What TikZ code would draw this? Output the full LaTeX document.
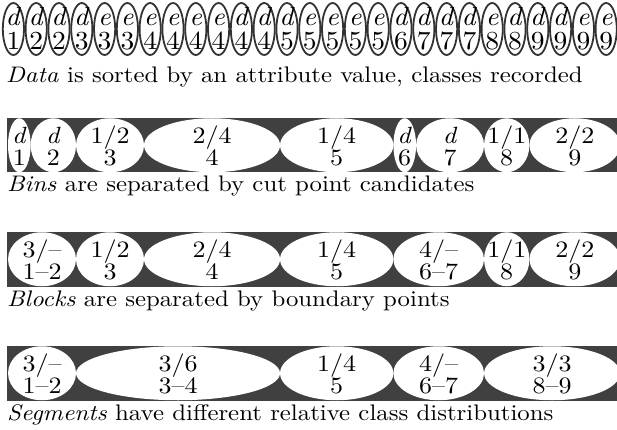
\documentclass[tikz,border=0pt]{standalone}
\usepackage{graphicx}
\definecolor{bandgray}{HTML}{404040}
\definecolor{rimgray}{HTML}{333333}
% text set at 10pt design size, then enlarged
\newcommand{\capt}[1]{\scalebox{2.48}[2.25]{\fontsize{10}{12}\selectfont #1}}
\newcommand{\lab}[1]{\scalebox{2.6}[2.35]{\fontsize{10}{12}\selectfont #1}}
\newcommand{\labone}[1]{\scalebox{2.75}[2.6]{\fontsize{10}{12}\selectfont #1}}
\tikzset{
  captxt/.style={anchor=base west, inner sep=0pt},
  labtxt/.style={anchor=base, inner sep=0pt},
  bandbox/.style={fill=bandgray},
  cell/.style={fill=white, draw=rimgray, line width=1.8pt}
}
% #1 start item, #2 end item, #3 band top, #4 top text, #5 bottom text, #6 name
\newcommand{\seg}[6]{%
  \pgfmathsetmacro\xa{8+22.67*#1}%
  \pgfmathsetmacro\xb{8+22.67*#2}%
  \pgfmathsetmacro\xm{(\xa+\xb)/2}%
  \pgfmathsetmacro\rx{(\xb-\xa)/2}%
  \fill[white] (\xm,#3+27.25) ellipse [x radius=\rx, y radius=27];
  \node[labtxt] (#6a) at (\xm,#3+25.3) {\lab{#4}};
  \node[labtxt] (#6b) at (\xm,#3+47.3) {\lab{#5}};
}
\begin{document}
\begin{tikzpicture}[x=1pt,y=-1pt]
\useasboundingbox (0,0) rectangle (617,430);
% Row 1: data
\foreach \c/\n [count=\i from 0] in {d/1,d/2,d/2,d/3,e/3,e/3,e/4,e/4,e/4,e/4,d/4,d/4,d/5,e/5,e/5,e/5,e/5,d/6,d/7,d/7,d/7,e/8,d/8,d/9,d/9,e/9,e/9} {
  \pgfmathsetmacro\xc{2+22.8*(\i+0.5)}
  \filldraw[cell] (\xc,29) ellipse [x radius=10.6, y radius=26];
  \node[labtxt] (t\i) at (\xc,25.5) {\labone{\textit{\c}}};
  \node[labtxt] (n\i) at (\xc,49.5) {\labone{\n}};
}
\node[captxt] (cap1) at (6,82.5) {\capt{\textit{Data} is sorted by an attribute value, classes recorded}};
% Row 2: bins
\fill[bandbox] (7,118) rectangle (617,172);
\seg{0}{1}{118}{\textit{d}}{1}{b1}
\seg{1}{3}{118}{\textit{d}}{2}{b2}
\seg{3}{6}{118}{1/2}{3}{b3}
\seg{6}{12}{118}{2/4}{4}{b4}
\seg{12}{17}{118}{1/4}{5}{b5}
\seg{17}{18}{118}{\textit{d}}{6}{b6}
\seg{18}{21}{118}{\textit{d}}{7}{b7}
\seg{21}{23}{118}{1/1}{8}{b8}
\seg{23}{27}{118}{2/2}{9}{b9}
\node[captxt] (cap2) at (7,192) {\capt{\textit{Bins} are separated by cut point candidates}};
% Row 3: blocks
\fill[bandbox] (7,232) rectangle (617,287);
\seg{0}{3}{232}{3/--}{1--2}{k1}
\seg{3}{6}{232}{1/2}{3}{k2}
\seg{6}{12}{232}{2/4}{4}{k3}
\seg{12}{17}{232}{1/4}{5}{k4}
\seg{17}{21}{232}{4/--}{6--7}{k5}
\seg{21}{23}{232}{1/1}{8}{k6}
\seg{23}{27}{232}{2/2}{9}{k7}
\node[captxt] (cap3) at (7,306) {\capt{\textit{Blocks} are separated by boundary points}};
% Row 4: segments
\fill[bandbox] (7,346) rectangle (617,401);
\seg{0}{3}{346}{3/--}{1--2}{s1}
\seg{3}{12}{346}{3/6}{3--4}{s2}
\seg{12}{17}{346}{1/4}{5}{s3}
\seg{17}{21}{346}{4/--}{6--7}{s4}
\seg{21}{27}{346}{3/3}{8--9}{s5}
\node[captxt] (cap4) at (7,420) {\capt{\textit{Segments} have different relative class distributions}};
\end{tikzpicture}
\end{document}
